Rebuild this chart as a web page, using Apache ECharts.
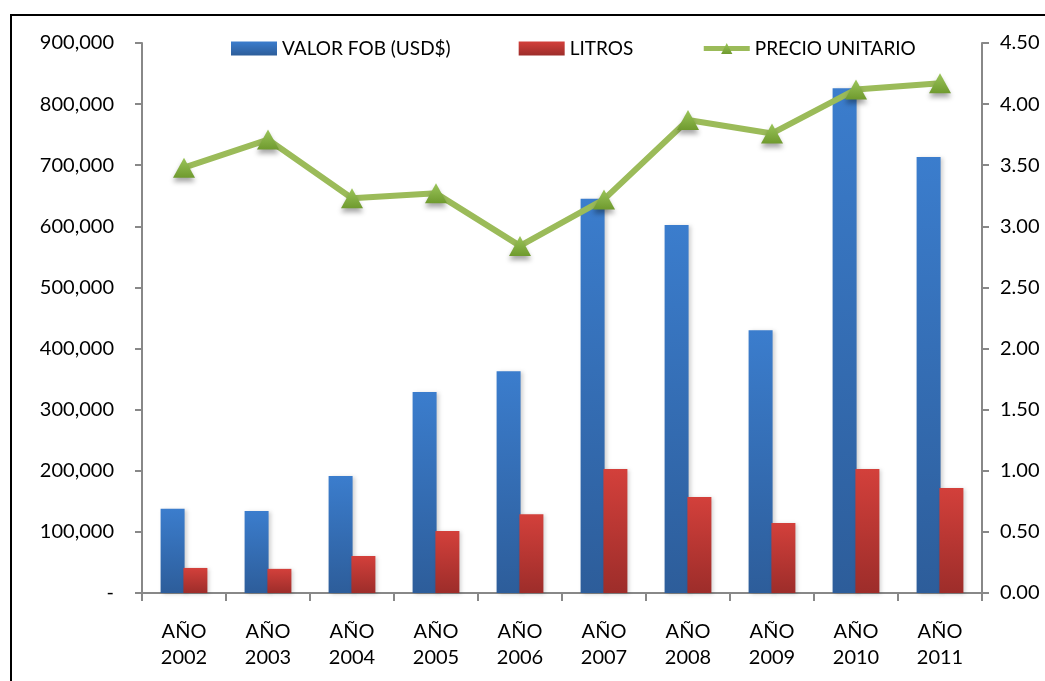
<!DOCTYPE html>
<html><head><meta charset="utf-8">
<script src="https://cdn.jsdelivr.net/npm/echarts@6/dist/echarts.min.js"></script>
<style>html,body{margin:0;padding:0;background:#fff}#c{width:1045px;height:681px}</style>
</head><body><div id="c"></div>
<script>
var categories = ['AÑO\n2002','AÑO\n2003','AÑO\n2004','AÑO\n2005','AÑO\n2006','AÑO\n2007','AÑO\n2008','AÑO\n2009','AÑO\n2010','AÑO\n2011'];
var valorFob = [138000,134000,191500,329000,363000,645000,602000,430000,826000,713500];
var litros = [41000,39500,60500,101500,129000,203000,157000,114500,203000,172000];
var precioUnitario = [3.48,3.71,3.23,3.27,2.84,3.22,3.87,3.76,4.12,4.17];
var leftTicks = {min:0,max:900000,interval:100000};
var rightTicks = {min:0,max:4.5,interval:0.5};

var FONT = 'Lato';
var FS = 20;
var chart = echarts.init(document.getElementById('c'));
function fmtLeft(v){ if(v===0) return '-'; return v.toString().replace(/\B(?=(\d{3})+(?!\d))/g, ','); }
chart.setOption({
  animation:false,
  textStyle:{fontFamily:FONT},
  graphic:[{type:'rect',shape:{x:11,y:15,width:1200,height:800},style:{fill:'none',stroke:'#000',lineWidth:2},z:100}],
  legend:{
    top:34, left:226, itemGap:68, itemWidth:46, itemHeight:14,
    textStyle:{fontFamily:FONT,fontSize:19,color:'#000'},
    data:[{name:'VALOR FOB (USD$)',icon:'rect'},{name:'LITROS',icon:'rect'},
          {name:'PRECIO UNITARIO',lineStyle:{width:5,color:'#9bbb59'}}]
  },
  grid:{left:142,right:63,top:43,bottom:88,containLabel:false},
  xAxis:{
    type:'category', data:categories,
    axisLine:{lineStyle:{color:'#888',width:2}},
    axisTick:{show:true,length:8,inside:false,lineStyle:{color:'#888',width:2}},
    axisLabel:{color:'#000',fontSize:FS,lineHeight:26,margin:26,fontFamily:FONT}
  },
  yAxis:[{
    type:'value', min:leftTicks.min, max:leftTicks.max, interval:leftTicks.interval,
    axisLine:{show:true,lineStyle:{color:'#888',width:2}},
    axisTick:{show:true,length:7,lineStyle:{color:'#888',width:2}},
    splitLine:{show:false},
    axisLabel:{color:'#000',fontSize:FS,margin:28,formatter:fmtLeft,fontFamily:FONT}
  },{
    type:'value', min:rightTicks.min, max:rightTicks.max, interval:rightTicks.interval, position:'right',
    axisLine:{show:true,lineStyle:{color:'#888',width:2}},
    axisTick:{show:true,length:7,lineStyle:{color:'#888',width:2}},
    splitLine:{show:false},
    axisLabel:{color:'#000',fontSize:FS,margin:18,formatter:function(v){return v.toFixed(2);},fontFamily:FONT}
  }],
  series:[{
    name:'VALOR FOB (USD$)', type:'bar', data:valorFob, barWidth:24, barGap:'-5%', barCategoryGap:'43%',
    itemStyle:{color:new echarts.graphic.LinearGradient(0,0,0,1,[{offset:0,color:'#3b7dcd'},{offset:1,color:'#2d5d9a'}]),
      shadowColor:'rgba(0,0,0,0.18)',shadowBlur:4,shadowOffsetX:2,shadowOffsetY:1}
  },{
    name:'LITROS', type:'bar', data:litros, barWidth:24,
    itemStyle:{color:new echarts.graphic.LinearGradient(0,0,0,1,[{offset:0,color:'#d3403b'},{offset:1,color:'#9d2d2a'}]),
      shadowColor:'rgba(0,0,0,0.18)',shadowBlur:4,shadowOffsetX:2,shadowOffsetY:1}
  },{
    name:'PRECIO UNITARIO', type:'line', yAxisIndex:1, data:precioUnitario,
    symbol:'triangle', symbolSize:[22,20],
    lineStyle:{color:'#9bbb59',width:6},
    itemStyle:{color:new echarts.graphic.LinearGradient(0,0,0,1,[{offset:0,color:'#9bc55a'},{offset:1,color:'#6f9a2e'}]),
      shadowColor:'rgba(0,0,0,0.35)',shadowBlur:5,shadowOffsetY:4},
    z:10
  }]
});
</script></body></html>
